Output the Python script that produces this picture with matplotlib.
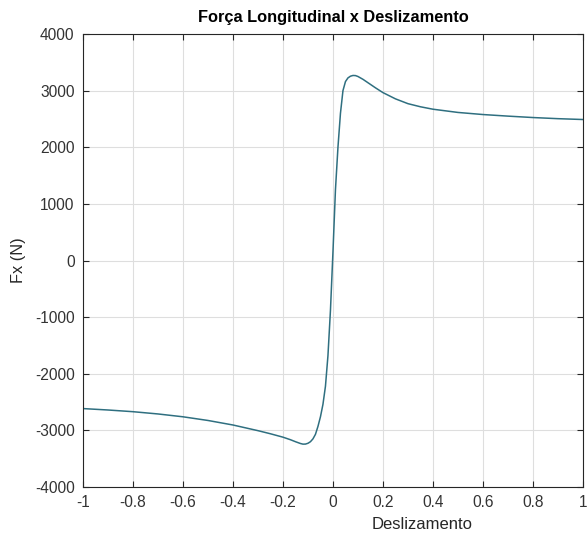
import matplotlib
matplotlib.use("Agg")
import matplotlib.pyplot as plt

# slip values and longitudinal force
slip = [-1.0, -0.9, -0.8, -0.7, -0.6, -0.5, -0.4, -0.3, -0.25, -0.2,
        -0.17, -0.15, -0.13, -0.12, -0.11, -0.10, -0.09, -0.08, -0.07, -0.06,
        -0.05, -0.04, -0.03, -0.02, -0.01, 0.0, 0.01, 0.02, 0.03, 0.04,
        0.05, 0.06, 0.07, 0.08, 0.09, 0.10, 0.12, 0.14, 0.17, 0.2,
        0.25, 0.3, 0.35, 0.4, 0.5, 0.6, 0.7, 0.8, 0.9, 1.0]
fx = [-2615, -2640, -2670, -2710, -2760, -2825, -2905, -3005, -3060, -3120,
      -3165, -3200, -3232, -3243, -3242, -3228, -3200, -3150, -3070, -2930,
      -2760, -2540, -2220, -1680, -880, 150, 1250, 2000, 2600, 3000,
      3160, 3225, 3255, 3268, 3266, 3250, 3200, 3140, 3050, 2965,
      2855, 2770, 2715, 2672, 2615, 2578, 2550, 2525, 2505, 2490]

xticks = [-1, -0.8, -0.6, -0.4, -0.2, 0, 0.2, 0.4, 0.6, 0.8, 1]
xticklabels = ["-1", "-0.8", "-0.6", "-0.4", "-0.2", "0", "0.2", "0.4", "0.6", "0.8", "1"]
yticks = [-4000, -3000, -2000, -1000, 0, 1000, 2000, 3000, 4000]
yticklabels = ["-4000", "-3000", "-2000", "-1000", "0", "1000", "2000", "3000", "4000"]

plt.rcParams['font.family'] = ['Liberation Sans', 'DejaVu Sans']
plt.rcParams['axes.unicode_minus'] = False

fig = plt.figure(figsize=(5.88, 5.47), dpi=100)
ax = fig.add_axes([0.141, 0.1097, 0.8505, 0.8281])

ax.plot(slip, fx, color='#2f6f80', linewidth=1.1)

ax.set_xlim(-1, 1)
ax.set_ylim(-4000, 4000)
ax.set_xticks(xticks)
ax.set_xticklabels(xticklabels)
ax.set_yticks(yticks)
ax.set_yticklabels(yticklabels)
ax.grid(True, color='#dedede', linewidth=0.8)
ax.set_axisbelow(True)
ax.tick_params(direction='in', top=True, right=True, length=4,
               labelsize=11.2, colors='#262626', labelcolor='#333333', width=0.8)
ax.tick_params(axis='x', pad=6)
ax.tick_params(axis='y', pad=6)
for s in ax.spines.values():
    s.set_color('#262626')
    s.set_linewidth(0.8)

ax.set_title('Força Longitudinal x Deslizamento', fontsize=11.8,
             fontweight='bold', pad=9)
ax.set_xlabel('Deslizamento', fontsize=12, color='#262626', labelpad=3)
ax.xaxis.set_label_coords(0.678, -0.066)
ax.set_ylabel('Fx (N)', fontsize=11.8, color='#262626', labelpad=6)

fig.savefig('out.png', dpi=100)
